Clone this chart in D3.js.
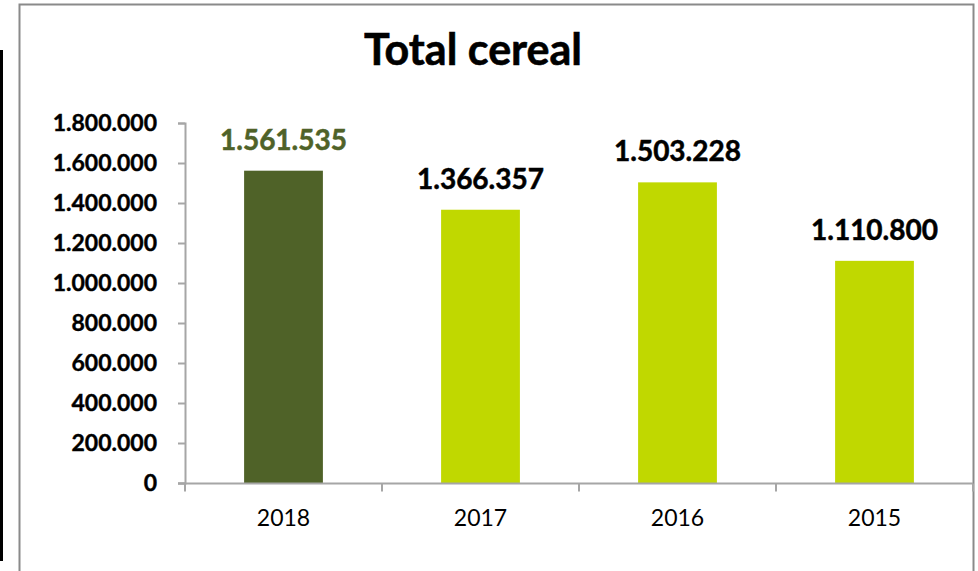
<!DOCTYPE html>
<html><head><meta charset="utf-8">
<script src="https://cdn.jsdelivr.net/npm/d3@7"></script>
<style>html,body{margin:0;padding:0;background:#fff;}svg{display:block;}</style>
</head><body>
<svg id="chart" width="978" height="571"></svg>
<script>
const title = "Total cereal";
const categories = ["2018", "2017", "2016", "2015"];
const values = [1561535, 1366357, 1503228, 1110800];
const valueLabels = ["1.561.535", "1.366.357", "1.503.228", "1.110.800"];
const yTicks = [0, 200000, 400000, 600000, 800000, 1000000, 1200000, 1400000, 1600000, 1800000];
const yTickLabels = ["0", "200.000", "400.000", "600.000", "800.000", "1.000.000", "1.200.000", "1.400.000", "1.600.000", "1.800.000"];
const barColors = ["#4F6228", "#C0D800", "#C0D800", "#C0D800"];
const labelColors = ["#4F6228", "#000000", "#000000", "#000000"];

const svg = d3.select("#chart");
const font = "Lato, 'Open Sans', sans-serif";

// left black stripe
svg.append("rect").attr("x", 0).attr("y", 50).attr("width", 3).attr("height", 511).attr("fill", "#000");
// chart border
svg.append("rect").attr("x", 19.5).attr("y", 4.5).attr("width", 954).attr("height", 580)
  .attr("fill", "#fff").attr("stroke", "#8a8a8a").attr("stroke-width", 2);

const x = d3.scaleBand().domain(categories).range([185, 973]).paddingInner(0.6).paddingOuter(0.3);
const xb = d3.scaleBand().domain(categories).range([185, 973]);
const y = d3.scaleLinear().domain([0, 1800000]).range([483, 123]);

// y axis
const yAxis = d3.axisLeft(y).tickValues(yTicks).tickSize(7).tickFormat((d, i) => yTickLabels[i]);
const gy = svg.append("g").attr("transform", "translate(185,0)").call(yAxis);
gy.select(".domain").attr("stroke", "#a6a6a6").attr("stroke-width", 2);
gy.selectAll(".tick line").attr("stroke", "#a6a6a6").attr("stroke-width", 2);
gy.selectAll(".tick text").attr("font-family", font).attr("font-weight", "bold")
  .attr("font-size", 23).attr("fill", "#000").attr("x", -28).attr("dy", "0.34em")
  .attr("stroke", "#000").attr("stroke-width", 0.4);

// bars
svg.selectAll("rect.bar").data(values).enter().append("rect").attr("class", "bar")
  .attr("x", (d, i) => x(categories[i])).attr("width", x.bandwidth())
  .attr("y", d => y(d)).attr("height", d => y(0) - y(d))
  .attr("fill", (d, i) => barColors[i]);

// x axis
const gx = svg.append("g").attr("transform", "translate(0,483.5)");
gx.append("line").attr("x1", 178).attr("x2", 973).attr("y1", 0).attr("y2", 0)
  .attr("stroke", "#a6a6a6").attr("stroke-width", 2);
const bounds = categories.map(c => xb(c)).concat([973]);
gx.selectAll("line.tk").data(bounds).enter().append("line").attr("class", "tk")
  .attr("x1", d => d).attr("x2", d => d).attr("y1", 0).attr("y2", 8)
  .attr("stroke", "#a6a6a6").attr("stroke-width", 2);
gx.selectAll("text").data(categories).enter().append("text")
  .attr("x", d => xb(d) + xb.bandwidth() / 2).attr("y", 42)
  .attr("text-anchor", "middle").attr("font-family", font).attr("font-size", 23)
  .attr("fill", "#000").text(d => d);

// value labels
svg.selectAll("text.val").data(values).enter().append("text").attr("class", "val")
  .attr("x", (d, i) => x(categories[i]) + x.bandwidth() / 2)
  .attr("y", d => y(d) - 21)
  .attr("text-anchor", "middle").attr("font-family", font).attr("font-weight", "bold")
  .attr("font-size", 28).attr("fill", (d, i) => labelColors[i])
  .attr("stroke", (d, i) => labelColors[i]).attr("stroke-width", 0.5)
  .text((d, i) => valueLabels[i]);

// title
svg.append("text").attr("x", 473).attr("y", 65).attr("text-anchor", "middle")
  .attr("font-family", font).attr("font-weight", "bold").attr("font-size", 43)
  .attr("fill", "#000").attr("stroke", "#000").attr("stroke-width", 0.6).text(title);
</script>
</body></html>
